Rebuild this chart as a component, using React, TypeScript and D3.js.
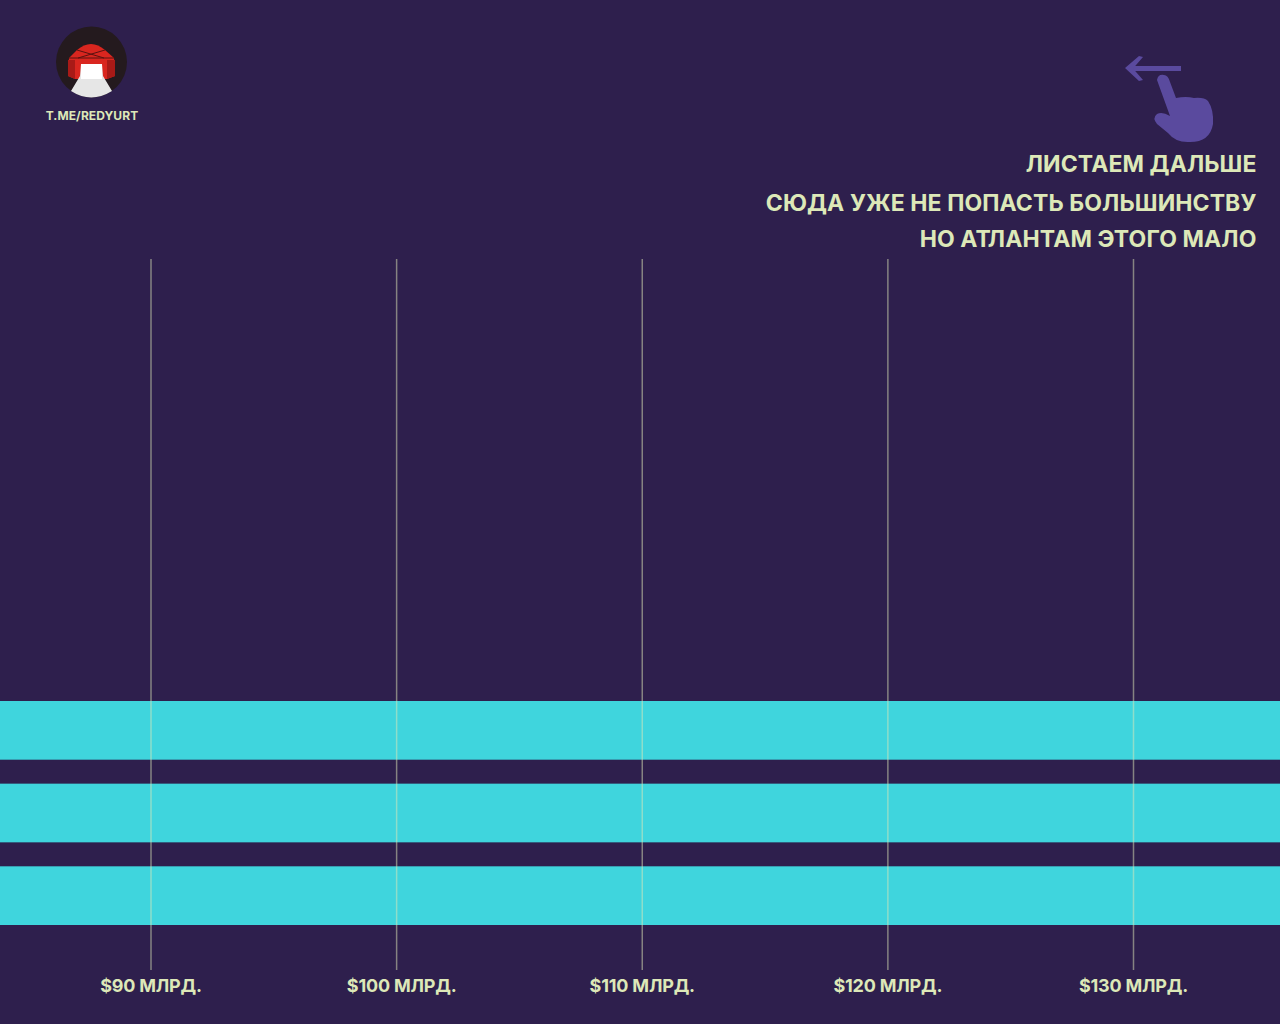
import * as d3 from 'd3';

const width = 1280;
const height = 1024;

// the three bars run off both edges of the frame, so their ends are not readable
const rows = ['a', 'b', 'c'];
const barValues = [140, 140, 140];
const tickValues = [90, 100, 110, 120, 130];
const tickLabels = ['$90 МЛРД.', '$100 МЛРД.', '$110 МЛРД.', '$120 МЛРД.', '$130 МЛРД.'];
const headerLines = ['ЛИСТАЕМ ДАЛЬШЕ', 'СЮДА УЖЕ НЕ ПОПАСТЬ БОЛЬШИНСТВУ', 'НО АТЛАНТАМ ЭТОГО МАЛО'];
const headerY = [172, 211, 247];

const BG = '#2E1F4D';
const CYAN = '#3FD5DD';
const TEXT = '#DDE8B8';
const HAND = '#5A4A9E';
const FONT = "Inter, 'Open Sans', sans-serif";

const x = d3.scaleLinear().domain([90, 130]).range([151, 1133.5]);
const y = d3.scaleBand<string>().domain(rows).range([701, 925]).paddingInner(0.29);

function Logo() {
  return (
    <g>
      <circle cx={91.5} cy={62} r={35.5} fill="#241A1E" />
      <path d="M69 58 L77 50 Q91 38 105 50 L114 58 L115 76 L107 79 L75 79 L68 76 Z" fill="#D9261F" />
      <path d="M68 60 L75 60 L75 79 L68 76 Z M107 60 L115 60 L115 76 L107 79 Z" fill="#A81A17" />
      <path d="M69 58 L114 58 M77 50 L104 58 M105 50 L78 58" stroke="#5A1210" strokeWidth={1} fill="none" />
      <path d="M81 64 L102 64 L103 76 L112 91 Q91 104 71 91 L80 76 Z" fill="#E6E6E6" />
      <rect x={81} y={64} width={21} height={15} fill="#FFFFFF" />
      <text x={92} y={120} textAnchor="middle" fontSize={12} fontWeight={700} letterSpacing={0.1} fill={TEXT}>
        T.ME/REDYURT
      </text>
    </g>
  );
}

function SwipeHint() {
  return (
    <g fill={HAND}>
      <rect x={1131} y={66} width={50} height={5} />
      <path d="M1125 68 L1139 56 L1143 57 L1133 68.5 L1143 80 L1139 81 Z" />
      <path d="M1157 80 Q1158 74 1164 75 Q1168 75 1170 82 L1176 98 Q1186 96 1194 98 Q1204 97 1208 101 Q1214 110 1213 124 Q1210 142 1190 142 Q1176 143 1168 133 L1157 124 Q1152 118 1157 114 Q1162 111 1170 116 Z" />
    </g>
  );
}

export default function App() {
  return (
    <svg
      width={width}
      height={height}
      viewBox={`0 0 ${width} ${height}`}
      style={{ position: 'absolute', left: 0, top: 0, display: 'block' }}
      fontFamily={FONT}
    >
      <rect width={width} height={height} fill={BG} />

      {rows.map((row, i) => (
        <rect key={row} x={x(60)} y={y(row)} width={x(barValues[i]) - x(60)} height={y.bandwidth()} fill={CYAN} />
      ))}

      {tickValues.map((tick, i) => (
        <g key={tick} transform={`translate(${x(tick)},0)`}>
          <line y1={259} y2={970} stroke="#DDE8B8" strokeOpacity={0.5} strokeWidth={1.5} />
          {/* the $100 label sits a little right of its line in the original */}
          <text x={i === 1 ? 5 : 0} y={992} textAnchor="middle" fontSize={18} fontWeight={700} letterSpacing={-0.2} fill={TEXT}>
            {tickLabels[i]}
          </text>
        </g>
      ))}

      {headerLines.map((line, i) => (
        <text key={line} x={1256.5} y={headerY[i]} textAnchor="end" fontSize={23} fontWeight={700} letterSpacing={0.1} fill={TEXT}>
          {line}
        </text>
      ))}

      <Logo />
      <SwipeHint />
    </svg>
  );
}
